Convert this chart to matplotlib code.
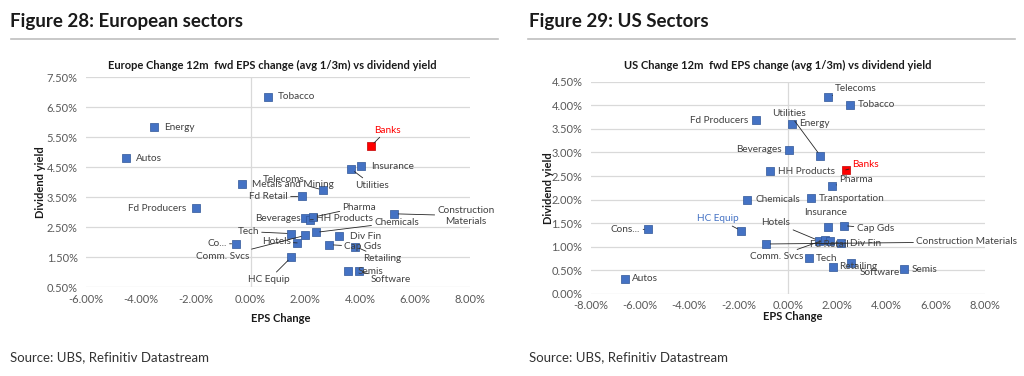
import matplotlib
matplotlib.use("Agg")
import matplotlib.pyplot as plt
from matplotlib.ticker import FuncFormatter

plt.rcParams['font.family'] = ['Lato', 'DejaVu Sans']

# ---------------- Data ----------------
eu_sectors = ["Energy", "Autos", "Tobacco", "Banks", "Insurance", "Utilities", "Telecoms",
              "Metals and Mining", "Fd Retail", "Fd Producers", "Beverages", "HH Products",
              "Pharma", "Construction\nMaterials", "Chemicals", "Tech", "Hotels", "Comm. Svcs",
              "Co...", "HC Equip", "Div Fin", "Cap Gds", "Retailing", "Semis", "Software"]
eu_eps = [-3.53, -4.55, 0.62, 4.39, 4.04, 3.67, 2.64, -0.30, 1.87, -1.99, 1.98, 2.17,
          2.29, 5.23, 2.37, 1.48, 1.70, 1.99, -0.54, 1.48, 3.24, 2.87, 3.82, 3.54, 3.96]
eu_yield = [5.83, 4.80, 6.84, 5.20, 4.53, 4.43, 3.73, 3.93, 3.52, 3.13, 2.80, 2.74,
            2.83, 2.94, 2.32, 2.28, 1.97, 2.22, 1.94, 1.49, 2.19, 1.91, 1.85, 1.02, 1.02]

us_sectors = ["Telecoms", "Tobacco", "Utilities", "Energy", "Beverages", "Banks", "Pharma",
              "HH Products", "Fd Producers", "Transportation", "Chemicals", "HC Equip",
              "Cons...", "Autos", "Insurance", "Cap Gds", "Hotels", "Comm. Svcs", "Fd Retail",
              "Div Fin", "Tech", "Retailing", "Software", "Semis", "Construction Materials"]
us_eps = [1.64, 2.51, 1.32, 0.16, 0.06, 2.35, 1.80, -0.74, -1.28, 0.95, -1.65, -1.89,
          -5.66, -6.60, 1.63, 2.26, 1.26, 1.49, 1.70, 2.14, 0.84, 1.83, 2.58, 4.72, -0.88]
us_yield = [4.18, 4.01, 2.93, 3.61, 3.06, 2.63, 2.29, 2.60, 3.68, 2.03, 2.00, 1.34,
            1.37, 0.32, 1.41, 1.45, 1.13, 1.15, 1.12, 1.08, 0.76, 0.58, 0.65, 0.52, 1.06]

eu_xticks = [-6, -4, -2, 0, 2, 4, 6, 8]
eu_yticks = [0.5, 1.5, 2.5, 3.5, 4.5, 5.5, 6.5, 7.5]
us_xticks = [-8, -6, -4, -2, 0, 2, 4, 6, 8]
us_yticks = [0, 0.5, 1.0, 1.5, 2.0, 2.5, 3.0, 3.5, 4.0, 4.5]

highlight = "Banks"

# ---------------- Label placement (offset pixels, ha, leader line) ----------------
eu_labels = {
    "Energy": (10, 0, 'left', False), "Autos": (10, 0, 'left', False),
    "Tobacco": (10, 0, 'left', False), "Banks": (16, 16, 'center', True),
    "Insurance": (10, 0, 'left', False), "Utilities": (21, -16, 'center', True),
    "Telecoms": (-39, 11, 'center', True), "Metals and Mining": (10, 0, 'left', False),
    "Fd Retail": (-14, 0, 'right', True), "Fd Producers": (-10, 0, 'right', False),
    "Beverages": (-4, 0, 'right', False), "HH Products": (6, 1, 'left', True),
    "Pharma": (46, 10, 'center', True), "Construction\nMaterials": (72, -2, 'center', True),
    "Chemicals": (81, 10, 'center', True), "Tech": (-43, 2, 'center', True),
    "Hotels": (-21, 1, 'center', True), "Comm. Svcs": (-82, -21, 'center', True),
    "Co...": (-9, 0, 'right', True), "HC Equip": (-22, -22, 'center', True),
    "Div Fin": (11, 0, 'left', False), "Cap Gds": (15, -2, 'left', True),
    "Retailing": (27, -12, 'center', True), "Semis": (10, 0, 'left', False),
    "Software": (32, -8, 'center', True),
}
us_labels = {
    "Telecoms": (7, 8, 'left', True), "Tobacco": (8, 0, 'left', False),
    "Utilities": (-31, 42, 'center', True), "Energy": (7, 0, 'left', False),
    "Beverages": (-8, 0, 'right', False), "Banks": (6, 5, 'left', True),
    "Pharma": (7, 6, 'left', True), "HH Products": (8, 0, 'left', False),
    "Fd Producers": (-8, 0, 'right', False), "Transportation": (8, 0, 'left', False),
    "Chemicals": (8, 0, 'left', False), "HC Equip": (-23, 12, 'center', True),
    "Cons...": (-8, 0, 'right', True), "Autos": (7, 0, 'left', False),
    "Insurance": (-2, 15, 'center', False), "Cap Gds": (13, -3, 'left', True),
    "Hotels": (-43, 18, 'center', True), "Comm. Svcs": (-48, -17, 'center', True),
    "Fd Retail": (0, -3, 'center', False), "Div Fin": (9, 0, 'left', False),
    "Tech": (7, 0, 'left', False), "Retailing": (6, 0, 'left', False),
    "Software": (28, -9, 'center', True), "Semis": (7, 0, 'left', False),
    "Construction Materials": (150, 2, 'left', True),
}

BLUE = "#4472C4"
BLUE_EDGE = "#2F5597"
RED = "#FF0000"
GRID = "#D9D9D9"
TXT = "#404040"
TICK = "#595959"

fig = plt.figure(figsize=(10.24, 3.76), dpi=100)

def pct(v, _):
    return f"{v:.2f}%"

def draw(ax, names, xs, ys, xlim, ylim, xt, yt, labels, pad_x, blue_label=None):
    ax.set_xlim(*xlim)
    ax.set_ylim(*ylim)
    ax.set_xticks(xt)
    ax.set_yticks(yt)
    ax.xaxis.set_major_formatter(FuncFormatter(pct))
    ax.yaxis.set_major_formatter(FuncFormatter(pct))
    ax.tick_params(length=0, labelsize=8, labelcolor=TICK)
    ax.tick_params(axis='x', pad=pad_x)
    ax.tick_params(axis='y', pad=6)
    for s in ax.spines.values():
        s.set_visible(False)
    ax.grid(axis='y', color=GRID, lw=0.9)
    ax.set_axisbelow(True)
    ax.axvline(0, color=GRID, lw=0.9, zorder=1)
    for n, x, y in zip(names, xs, ys):
        c = RED if n == highlight else BLUE
        ec = "#C00000" if n == highlight else BLUE_EDGE
        ax.scatter([x], [y], marker='s', s=30, color=c, edgecolors=ec, linewidths=0.5, zorder=3)
        dx, dy, ha, line = labels[n]
        tc = RED if n == highlight else (BLUE if n == blue_label else TXT)
        ap = dict(arrowstyle='-', color='#262626', lw=0.6, shrinkA=0, shrinkB=3) if line else None
        ax.annotate(n, xy=(x, y), xytext=(dx, dy), textcoords='offset pixels',
                    ha=ha, va='center', fontsize=7.2, color=tc, arrowprops=ap,
                    multialignment='center', zorder=4)

# Left chart
axL = fig.add_axes([86/1024, (376-287)/376, 384/1024, 210/376])
draw(axL, eu_sectors, eu_eps, eu_yield, (-6, 8), (0.5, 7.5), eu_xticks, eu_yticks, eu_labels, 5)
# Right chart
axR = fig.add_axes([590.7/1024, (376-294)/376, 394.3/1024, 212.3/376])
draw(axR, us_sectors, us_eps, us_yield, (-8, 8), (0, 4.5), us_xticks, us_yticks, us_labels, 4,
     blue_label="HC Equip")

def fy(py):
    return 1 - py/376

def fx(px):
    return px/1024

# Figure headings
fig.text(fx(10), fy(21), "Figure 28: European sectors", fontsize=13.5, weight='bold', color='#1a1a1a', va='center')
fig.text(fx(529), fy(21), "Figure 29: US Sectors", fontsize=13.5, weight='bold', color='#1a1a1a', va='center')
fig.add_artist(plt.Line2D([fx(11), fx(498)], [fy(38.5), fy(38.5)], color='#BFBFBF', lw=1.2))
fig.add_artist(plt.Line2D([fx(528), fx(1015)], [fy(38.5), fy(38.5)], color='#BFBFBF', lw=1.2))

# Chart titles
fig.text(fx(272), fy(65), "Europe Change 12m  fwd EPS change (avg 1/3m) vs dividend yield",
         fontsize=8, weight='bold', ha='center', va='center', color='#1a1a1a')
fig.text(fx(778), fy(65), "US Change 12m  fwd EPS change (avg 1/3m) vs dividend yield",
         fontsize=8, weight='bold', ha='center', va='center', color='#1a1a1a')

# Axis titles
fig.text(fx(40), fy(182), "Dividend yield", rotation=90, fontsize=8, weight='bold',
         ha='center', va='center', color='#1a1a1a')
fig.text(fx(548), fy(188), "Dividend yield", rotation=90, fontsize=8, weight='bold',
         ha='center', va='center', color='#1a1a1a')
fig.text(fx(281), fy(318), "EPS Change", fontsize=8, weight='bold', ha='center', va='center', color='#1a1a1a')
fig.text(fx(793), fy(317), "EPS Change", fontsize=8, weight='bold', ha='center', va='center', color='#1a1a1a')

# Sources
fig.text(fx(10), fy(357), "Source: UBS, Refinitiv Datastream", fontsize=9.5, color='#333333', va='center')
fig.text(fx(529), fy(357), "Source: UBS, Refinitiv Datastream", fontsize=9.5, color='#333333', va='center')

fig.savefig("out.png", dpi=100, facecolor='white')
